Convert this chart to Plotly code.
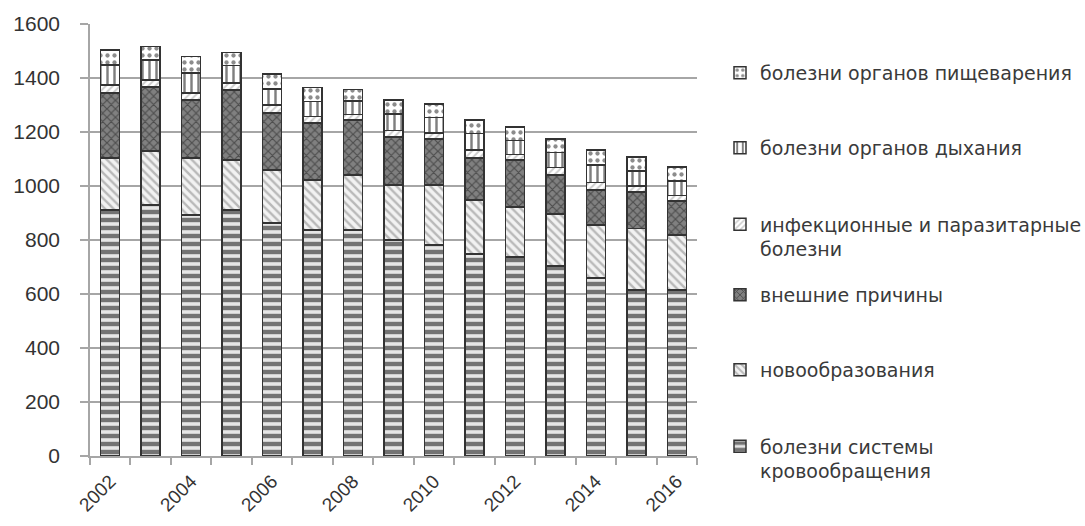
import plotly.graph_objects as go

# Years on the category axis; only even years carry a label
years = [str(y) for y in range(2002, 2017)]
year_labels = [y if int(y) % 2 == 0 else "" for y in years]

# Mortality by cause, stacked from bottom to top
circulatory = [911, 930, 893, 911, 863, 837, 837, 800, 781, 748, 737, 704, 659, 615, 615]
neoplasms = [193, 200, 211, 185, 196, 185, 204, 204, 223, 200, 185, 192, 196, 227, 204]
external = [240, 237, 215, 260, 211, 211, 203, 177, 171, 156, 174, 145, 130, 136, 125]
infectious = [30, 25, 25, 25, 30, 25, 20, 25, 22, 30, 20, 28, 28, 22, 20]
respiratory = [74, 75, 75, 65, 60, 55, 50, 60, 57, 60, 53, 55, 65, 55, 55]
digestive = [56, 49, 60, 49, 55, 52, 44, 52, 50, 50, 50, 50, 55, 52, 51]

series = [
    ("болезни системы<br>кровообращения", circulatory,
     dict(shape="-", fgcolor="#000000", bgcolor="#e6e6e6", size=8, solidity=0.55)),
    ("новообразования", neoplasms,
     dict(shape="\\", fgcolor="#808080", bgcolor="#f2f2f2", size=6, solidity=0.4)),
    ("внешние причины", external,
     dict(shape="x", fgcolor="#1a1a1a", bgcolor="#808080", size=6, solidity=0.35)),
    ("инфекционные и паразитарные<br>болезни", infectious,
     dict(shape="/", fgcolor="#9a9a9a", bgcolor="#ffffff", size=5, solidity=0.4)),
    ("болезни органов дыхания", respiratory,
     dict(shape="|", fgcolor="#000000", bgcolor="#ffffff", size=7, solidity=0.35)),
    ("болезни органов пищеварения", digestive,
     dict(shape=".", fgcolor="#1a1a1a", bgcolor="#ffffff", size=7, solidity=0.3)),
]

# one legend box per series so the entries sit on an even vertical rhythm
legend_centers = [459, 370, 295, 237, 148, 73]

W, H = 1085, 526
legend_font = dict(family="DejaVu Sans", size=19, color="#3a3a3a")
ytick_font = dict(family="Liberation Sans", size=21, color="#333333")
xtick_font = dict(family="Liberation Sans", size=19, color="#333333")

fig = go.Figure()
layout_legends = {}
for i, ((name, vals, pat), yc) in enumerate(zip(series, legend_centers)):
    key = "legend" if i == 0 else f"legend{i + 1}"
    fig.add_trace(go.Bar(
        x=years, y=vals, name=name,
        marker=dict(pattern=pat, line=dict(color="#333333", width=1.5)),
        legend=key,
    ))
    layout_legends[key] = dict(
        xref="container", yref="container",
        x=720 / W, y=1 - yc / H,
        xanchor="left", yanchor="middle",
        font=legend_font, valign="top",
        bgcolor="rgba(0,0,0,0)", borderwidth=0,
    )

fig.update_layout(
    width=W, height=H,
    barmode="stack", bargap=0.53,
    paper_bgcolor="white", plot_bgcolor="white",
    margin=dict(l=90, r=W - 697, t=24, b=H - 456),
    showlegend=True,
    **layout_legends,
)

fig.update_yaxes(
    range=[0, 1600], dtick=200, tick0=0,
    showgrid=True, gridcolor="#a6a6a6", gridwidth=1.8,
    showline=True, linecolor="#a6a6a6", linewidth=1.5,
    ticks="outside", ticklen=8, tickcolor="#a6a6a6", tickwidth=1.5,
    ticklabelstandoff=16, automargin=False,
    tickfont=ytick_font,
    zeroline=False,
)
fig.update_xaxes(
    type="category", tickmode="array", tickvals=years, ticktext=year_labels,
    tickson="boundaries", ticks="outside", ticklen=7,
    tickcolor="#a6a6a6", tickwidth=1.5,
    showline=True, linecolor="#a6a6a6", linewidth=1.5,
    showgrid=False, tickangle=-45, ticklabelstandoff=5, automargin=False,
    tickfont=xtick_font,
)

fig.write_html("out.html")
